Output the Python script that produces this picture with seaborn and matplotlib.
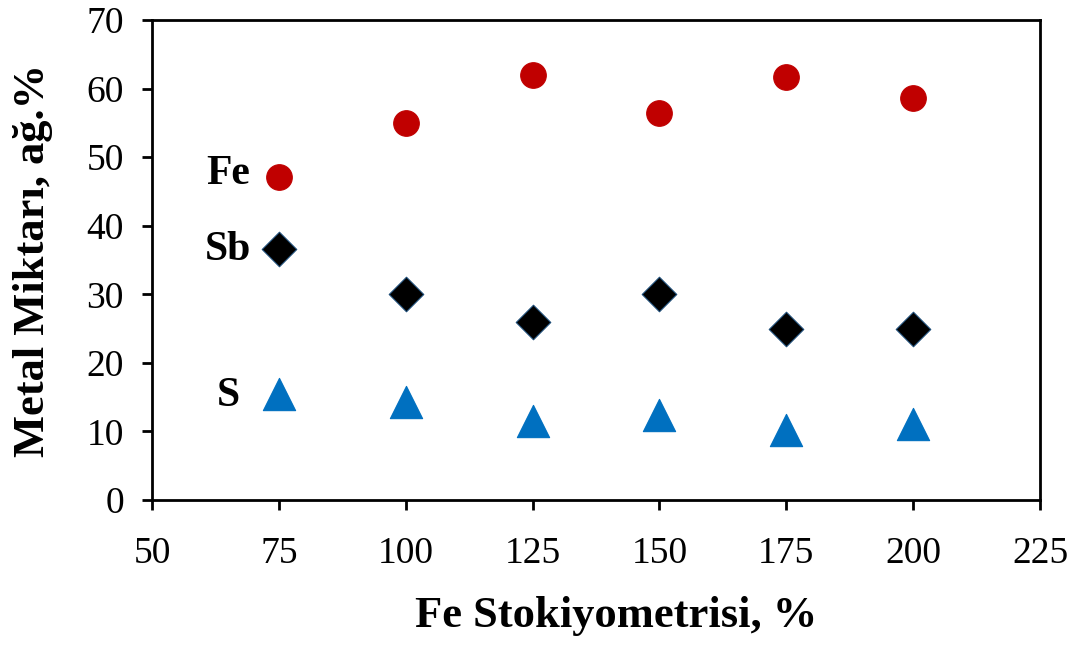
import matplotlib
matplotlib.use("Agg")
import matplotlib.pyplot as plt
import seaborn as sns
import pandas as pd

stoich = [75, 100, 125, 150, 175, 200]
fe = [47.1, 55.0, 62.0, 56.4, 61.7, 58.6]
sb = [36.6, 30.0, 26.0, 30.0, 24.9, 24.9]
s = [15.5, 14.3, 11.5, 12.4, 10.2, 11.1]
elements = ["Fe", "Sb", "S"]
x_ticks = [50, 75, 100, 125, 150, 175, 200, 225]
y_ticks = [0, 10, 20, 30, 40, 50, 60, 70]

df = pd.DataFrame({
    "x": stoich * 3,
    "y": fe + sb + s,
    "el": ["Fe"] * 6 + ["Sb"] * 6 + ["S"] * 6,
})

sns.set_style("white")
plt.rcParams["font.family"] = ["Liberation Serif", "DejaVu Serif"]
plt.rcParams["text.color"] = "black"
plt.rcParams["axes.labelcolor"] = "black"

fig = plt.figure(figsize=(10.8, 6.48), dpi=100)
ax = fig.add_axes([0.1407, 0.2284, 0.8223, 0.7406])

palette = {"Fe": "#C00000", "Sb": "#000000", "S": "#0070C0"}
markers = {"Fe": "o", "Sb": "D", "S": "^"}
sizes = {"Fe": 340, "Sb": 310, "S": 540}
for el in elements:
    sub = df[df.el == el]
    sns.scatterplot(data=sub, x="x", y="y", color=palette[el], marker=markers[el],
                    s=sizes[el], edgecolor=("#1f4e79" if el == "Sb" else palette[el]),
                    linewidth=0.8, ax=ax, legend=False, zorder=3)

ax.set_xlim(50, 225)
ax.set_ylim(0, 70)
ax.set_xticks(x_ticks)
ax.set_yticks(y_ticks)
ax.tick_params(axis="both", direction="out", length=7.2, width=2, labelsize=27,
               colors="black", bottom=True, left=True)
ax.tick_params(axis="y", pad=13)
ax.tick_params(axis="x", pad=19)
for sp in ax.spines.values():
    sp.set_visible(True)
    sp.set_color("black")
    sp.set_linewidth(2)

ax.set_xlabel("Fe Stokiyometrisi, %", fontsize=32, fontweight="bold", labelpad=18, color="black")
ax.set_ylabel("Metal Miktarı, ağ.%", fontsize=32, fontweight="bold", labelpad=24, color="black")
ax.xaxis.label.set_x(0.5225)

ax.text(69.4, 47.5, "Fe", fontsize=30, fontweight="bold", ha="right", va="center", color="black")
ax.text(69.5, 36.5, "Sb", fontsize=30, fontweight="bold", ha="right", va="center", color="black")
ax.text(67.3, 15.2, "S", fontsize=30, fontweight="bold", ha="right", va="center", color="black")

fig.savefig("out.png", dpi=100)
